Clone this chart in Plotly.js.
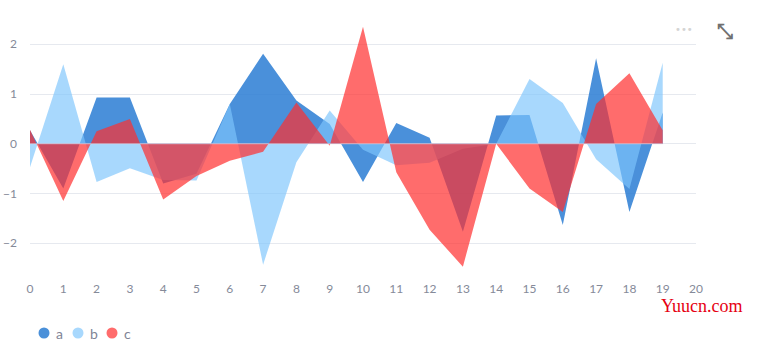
<!DOCTYPE html>
<html>
<head>
<meta charset="utf-8">
<script src="https://cdn.plot.ly/plotly-3.0.1.min.js"></script>
<style>html,body{margin:0;padding:0;background:#fff;}#chart{width:762px;height:357px;}</style>
</head>
<body>
<div id="chart"></div>
<script>
var xValues = [0,1,2,3,4,5,6,7,8,9,10,11,12,13,14,15,16,17,18,19];
var seriesNames = ['a','b','c'];
var seriesA = [0.27,-0.9,0.93,0.93,-0.8,-0.6,0.8,1.81,0.87,0.4,-0.77,0.42,0.12,-1.77,0.57,0.58,-1.63,1.72,-1.37,0.63];
var seriesB = [-0.47,1.6,-0.77,-0.49,-0.73,-0.74,0.8,-2.43,-0.37,0.67,-0.12,-0.43,-0.38,-0.1,0.0,1.3,0.82,-0.31,-0.91,1.63];
var seriesC = [0.28,-1.15,0.25,0.5,-1.12,-0.65,-0.34,-0.16,0.83,-0.04,2.35,-0.57,-1.73,-2.47,0.0,-0.9,-1.37,0.8,1.42,0.27];
var xTickVals = [0,1,2,3,4,5,6,7,8,9,10,11,12,13,14,15,16,17,18,19,20];
var yTickVals = [-2,-1,0,1,2];

var fillColors = ['rgba(42,125,211,0.85)','rgba(126,197,252,0.67)','rgba(255,45,45,0.7)'];
var legendColors = ['#4a90d9','#a8d8fd','#ff6c6c'];
var allSeries = [seriesA, seriesB, seriesC];

var traces = allSeries.map(function(s, i){
  return {
    x: xValues, y: s, type: 'scatter', mode: 'lines', name: seriesNames[i],
    fill: 'tozeroy', fillcolor: fillColors[i],
    line: {width: 0, color: fillColors[i]}, hoverinfo: 'skip', showlegend: false
  };
});

// plot area in pixels: left 30, right 696, top 20, bottom 280
var L = 30, R = 696, T = 20, B = 280;
function px(x){ return (x - L) / (R - L); }
function py(y){ return (B - y) / (B - T); }

var shapes = [{
  type: 'line', xref: 'x', yref: 'y', x0: xValues[0], x1: xValues[xValues.length-1], y0: 0, y1: 0,
  layer: 'above', line: {color: 'rgba(228,214,228,0.6)', width: 1}
}];
var annotations = [];
var legendX = [44, 78, 112];
seriesNames.forEach(function(n, i){
  shapes.push({
    type: 'circle', xref: 'paper', yref: 'paper', xsizemode: 'pixel', ysizemode: 'pixel',
    xanchor: px(legendX[i]), yanchor: py(333), x0: -5.5, x1: 5.5, y0: -5.5, y1: 5.5,
    fillcolor: legendColors[i], line: {width: 0}
  });
  annotations.push({
    xref: 'paper', yref: 'paper', x: px(legendX[i] + 10), y: py(333), xanchor: 'left', yanchor: 'middle',
    text: n, showarrow: false, font: {family: 'Lato, "Open Sans", sans-serif', size: 14, color: '#7f8496'}
  });
});
annotations.push({
  xref: 'paper', yref: 'paper', x: px(684), y: py(30), xanchor: 'center', yanchor: 'middle',
  text: '•••', showarrow: false, font: {family: 'DejaVu Sans', size: 10, color: '#d4d4d4'}
});
annotations.push({
  xref: 'paper', yref: 'paper', x: px(725), y: py(31), xanchor: 'center', yanchor: 'middle',
  text: '<b>⤡</b>', showarrow: false, font: {family: 'DejaVu Sans', size: 20, color: '#707070'}
});
annotations.push({
  xref: 'paper', yref: 'paper', x: px(702), y: py(306), xanchor: 'center', yanchor: 'middle',
  text: 'Yuucn.com', showarrow: false, font: {family: '"Liberation Serif", serif', size: 18, color: '#e60012'}
});

var layout = {
  width: 762, height: 357,
  margin: {l: L, r: 762 - R, t: T, b: 357 - B, pad: 0},
  paper_bgcolor: '#ffffff', plot_bgcolor: '#ffffff',
  showlegend: false,
  font: {family: 'Lato, "Open Sans", sans-serif', size: 12, color: '#858a99'},
  xaxis: {
    range: [0, 20], tickmode: 'array', tickvals: xTickVals, ticktext: xTickVals.map(String),
    showgrid: false, zeroline: false, showline: false, ticks: '',
    tickfont: {size: 12, color: '#858a99'}, fixedrange: true
  },
  yaxis: {
    range: [-2.738, 2.488], tickmode: 'array', tickvals: yTickVals,
    showgrid: true, gridcolor: '#e6e9ef', gridwidth: 1, zeroline: false, showline: false, ticks: '',
    ticklabelstandoff: 12, tickfont: {size: 12, color: '#858a99'}, fixedrange: true
  },
  shapes: shapes,
  annotations: annotations
};

Plotly.newPlot('chart', traces, layout, {displayModeBar: false, staticPlot: true});
</script>
</body>
</html>
